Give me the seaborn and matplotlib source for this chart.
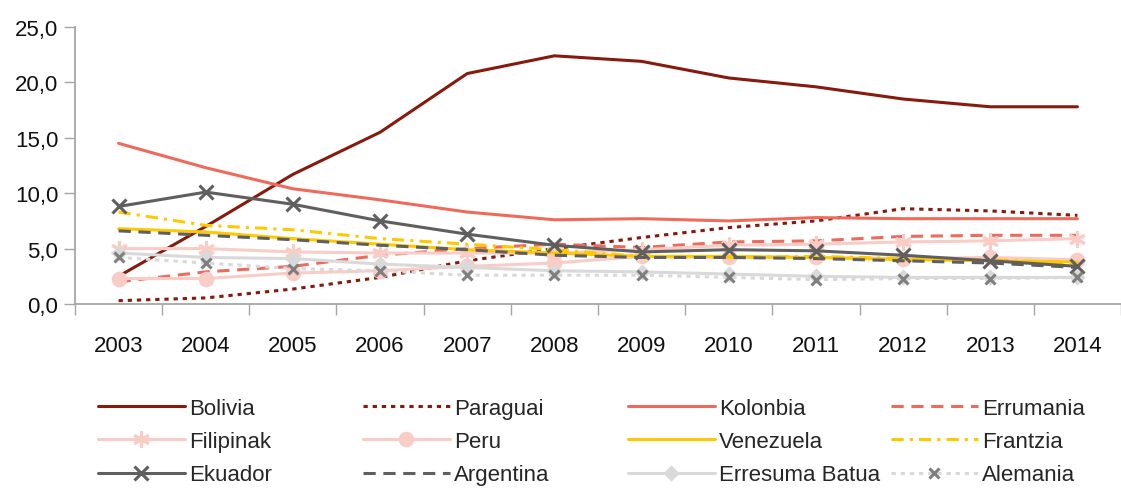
import numpy as np
import pandas as pd
import matplotlib
matplotlib.use("Agg")
import matplotlib.pyplot as plt
import seaborn as sns
from matplotlib.ticker import FuncFormatter

sns.set_theme(style="white")
plt.rcParams['font.family'] = ['Liberation Sans', 'DejaVu Sans']

years = ['2003', '2004', '2005', '2006', '2007', '2008', '2009', '2010', '2011', '2012', '2013', '2014']

bolivia = [2.5, 7.0, 11.7, 15.5, 20.8, 22.4, 21.9, 20.4, 19.6, 18.5, 17.8, 17.8]
paraguai = [0.3, 0.55, 1.35, 2.4, 3.9, 5.0, 6.0, 6.9, 7.5, 8.6, 8.4, 8.0]
kolonbia = [14.5, 12.3, 10.4, 9.4, 8.3, 7.6, 7.7, 7.5, 7.8, 7.7, 7.7, 7.7]
errumania = [2.0, 2.9, 3.4, 4.4, 5.0, 5.4, 5.1, 5.6, 5.7, 6.1, 6.2, 6.2]
filipinak = [5.0, 5.0, 4.7, 4.6, 4.6, 4.6, 4.9, 5.3, 5.4, 5.6, 5.7, 5.9]
peru = [2.3, 2.3, 2.8, 3.0, 3.4, 3.7, 4.3, 4.2, 4.2, 4.1, 4.2, 4.0]
venezuela = [6.8, 6.5, 5.9, 5.4, 4.9, 4.6, 4.3, 4.3, 4.2, 4.0, 3.9, 3.8]
frantzia = [8.3, 7.1, 6.7, 5.9, 5.4, 4.9, 4.3, 4.2, 4.3, 4.1, 4.0, 3.7]
ekuador = [8.8, 10.1, 9.0, 7.5, 6.3, 5.3, 4.7, 4.9, 4.8, 4.4, 3.9, 3.4]
argentina = [6.6, 6.2, 5.8, 5.3, 4.9, 4.4, 4.2, 4.2, 4.1, 3.9, 3.7, 3.3]
erresuma = [4.6, 4.2, 4.1, 3.6, 3.3, 3.0, 2.9, 2.7, 2.5, 2.4, 2.4, 2.4]
alemania = [4.2, 3.7, 3.2, 3.0, 2.6, 2.6, 2.6, 2.4, 2.2, 2.3, 2.3, 2.4]

dark_red = '#87190d'
salmon = '#ee6b5c'
pink = '#f9ccc6'
yellow = '#ffc900'
dgray = '#5f5f5f'
lgray = '#d9d9d9'

# name, values, color, linestyle, marker, markersize, marker color
series = [
    ('Bolivia', bolivia, dark_red, '-', None, 0, None),
    ('Paraguai', paraguai, dark_red, (0, (1.4, 1.6)), None, 0, None),
    ('Kolonbia', kolonbia, salmon, '-', None, 0, None),
    ('Errumania', errumania, salmon, (0, (4, 2.5)), None, 0, None),
    ('Filipinak', filipinak, pink, '-', (6, 2, 0), 12, pink),
    ('Peru', peru, pink, '-', 'o', 9, pink),
    ('Venezuela', venezuela, yellow, '-', None, 0, None),
    ('Frantzia', frantzia, yellow, (0, (4, 2, 1, 2)), None, 0, None),
    ('Ekuador', ekuador, dgray, '-', 'x', 10, dgray),
    ('Argentina', argentina, dgray, (0, (4, 2.5)), None, 0, None),
    ('Erresuma Batua', erresuma, lgray, '-', 'D', 6, lgray),
    ('Alemania', alemania, lgray, (0, (1.4, 1.6)), 'x', 6.5, '#7f7f7f'),
]

fig = plt.figure(figsize=(11.21, 4.89), dpi=100)
ax = fig.add_axes([75 / 1121, 184 / 489, 1 - 75 / 1121, 277 / 489])

x = np.arange(len(years))
for name, vals, col, ls, mk, ms, mc in series:
    kw = dict(color=col, linestyle=ls, linewidth=2.2, label=name)
    if mk is not None:
        kw.update(marker=mk, markersize=ms, markerfacecolor=mc, markeredgecolor=mc,
                  markeredgewidth=2.2)
    sns.lineplot(x=x, y=vals, ax=ax, **kw)

ax.set_xlim(-0.5, 11.4)
ax.set_ylim(0, 25)
ax.set_yticks([0, 5, 10, 15, 20, 25])
ax.yaxis.set_major_formatter(FuncFormatter(lambda v, p: f"{v:.1f}".replace('.', ',')))
ax.set_xticks(x)
ax.set_xticklabels(years)
ax.set_xticks(np.arange(-0.5, 12, 1), minor=True)
ax.tick_params(axis='x', which='major', length=0, pad=22, labelsize=16, labelcolor='#111111')
ax.tick_params(axis='x', which='minor', length=8, width=1, colors='#a6a6a6', direction='out')
ax.tick_params(axis='y', length=8, width=1, colors='#a6a6a6', labelcolor='#111111',
               direction='out', labelsize=16, pad=4)
ax.xaxis.set_ticks_position('bottom')
ax.yaxis.set_ticks_position('left')
for s in ['top', 'right']:
    ax.spines[s].set_visible(False)
for s in ['left', 'bottom']:
    ax.spines[s].set_color('#a6a6a6')
    ax.spines[s].set_linewidth(1.3)
ax.grid(False)
ax.set_xlabel('')
ax.set_ylabel('')

handles, labels = ax.get_legend_handles_labels()
if ax.get_legend() is not None:
    ax.get_legend().remove()

# legend laid out row by row, one legend per column
col_x = [98, 363, 628, 891]
for c in range(4):
    hs = [handles[r * 4 + c] for r in range(3)]
    ls_ = [labels[r * 4 + c] for r in range(3)]
    fig.legend(hs, ls_, loc='upper left', bbox_to_anchor=(col_x[c] / 1121, 1 - 399 / 489),
               frameon=False, fontsize=16, handlelength=3.9, handletextpad=0.2,
               labelspacing=0.55, borderaxespad=0, borderpad=0)

fig.savefig('out.png', dpi=100)
